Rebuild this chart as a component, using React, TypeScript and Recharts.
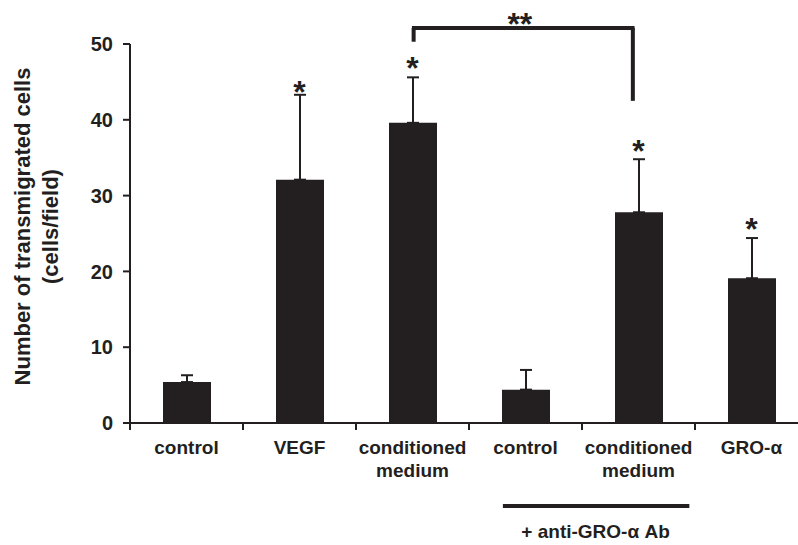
import {
  BarChart,
  Bar,
  XAxis,
  YAxis,
  ErrorBar,
  ReferenceLine,
  ReferenceDot,
} from 'recharts';

const groups = ['control', 'VEGF', 'conditioned\nmedium', 'control', 'conditioned\nmedium', 'GRO-α'];
const means = [5.4, 32.1, 39.6, 4.4, 27.8, 19.1];
const sdUpper = [0.9, 11.2, 6.0, 2.6, 7.0, 5.3];
const starHeights = [null, 44.6, 47.8, null, 36.8, 26.5];
const yTicks = [0, 10, 20, 30, 40, 50];

// bracket between conditioned medium +/- antibody (x in group units, 0..6)
const bracketX = [2.51, 4.45];
const bracketTop = 52.1;
const bracketEnds = [50.3, 42.5];
const bracketStar = { x: 3.45, y: 53.6 };

// "+ anti-GRO-α Ab" underline below the axis
const abLineX = [3.3, 4.95];
const abLineY = -10.95;
const abLabel = { x: 4.12, y: -15.2, text: '+ anti-GRO-α Ab' };

const ink = '#231f20';
const font = '"Liberation Sans", Arial, sans-serif';

const data = groups.map((g, i) => ({
  key: 'g' + i,
  pos: i + 0.5,
  mean: means[i],
  err: [0, sdUpper[i]],
}));

function GroupTick(props: any) {
  const { x, y, payload, index } = props;
  const lines = groups[index].split('\n');
  const edge = x - (payload.offset ?? 0);
  return (
    <g>
      <line x1={edge} y1={y} x2={edge} y2={y + 7} stroke={ink} strokeWidth={2} />
      <text x={x} y={y + 31} textAnchor="middle" fontSize={19} fontWeight="bold" fill={ink} fontFamily={font}>
        {lines.map((l, i) => (
          <tspan key={i} x={x} dy={i === 0 ? 0 : 23}>
            {l}
          </tspan>
        ))}
      </text>
    </g>
  );
}

function YTitle(props: any) {
  const { viewBox } = props;
  const cy = viewBox.y + viewBox.height / 2 - 7;
  const x1 = viewBox.x + 30;
  const x2 = viewBox.x + 58;
  const style = { fontSize: 22, fontWeight: 'bold' as const, fill: ink, fontFamily: font };
  return (
    <g>
      <text x={x1} y={cy} transform={`rotate(-90 ${x1} ${cy})`} textAnchor="middle" {...style}>
        Number of transmigrated cells
      </text>
      <text x={x2} y={cy} transform={`rotate(-90 ${x2} ${cy})`} textAnchor="middle" {...style}>
        (cells/field)
      </text>
    </g>
  );
}

const Star = (text: string) => (p: any) => (
  <text x={p.cx} y={p.cy + 18} textAnchor="middle" fontSize={32} fontWeight="bold" fill={ink} fontFamily={font}>
    {text}
  </text>
);

const AbText = (p: any) => (
  <text x={p.cx} y={p.cy} textAnchor="middle" fontSize={19} fontWeight="bold" fill={ink} fontFamily={font}>
    {abLabel.text}
  </text>
);

export default function App() {
  return (
    <div style={{ position: 'absolute', left: 0, top: 0, width: 798, height: 545, overflow: 'hidden', background: '#fff' }}>
      <BarChart width={808} height={545} data={data} margin={{ top: 44, right: 0, bottom: 62, left: 0 }} barSize={48}>
        <XAxis
          dataKey="key"
          height={60}
          interval={0}
          tickLine={false}
          tickSize={0}
          tickMargin={0}
          axisLine={{ stroke: ink, strokeWidth: 2 }}
          tick={<GroupTick />}
        />
        <XAxis xAxisId="num" dataKey="pos" type="number" domain={[0, 6]} allowDataOverflow hide />
        <YAxis
          width={130}
          domain={[0, 50]}
          ticks={yTicks}
          interval={0}
          tickSize={7}
          tickMargin={10}
          axisLine={{ stroke: ink, strokeWidth: 2 }}
          tickLine={{ stroke: ink, strokeWidth: 2 }}
          tick={{ fill: ink, fontSize: 20, fontWeight: 'bold', fontFamily: font }}
          label={{ content: <YTitle /> }}
        />
        <Bar dataKey="mean" fill={ink} isAnimationActive={false}>
          <ErrorBar dataKey="err" direction="y" width={6} stroke={ink} strokeWidth={2} isAnimationActive={false} />
        </Bar>
        {starHeights.map((h, i) =>
          h == null ? null : (
            <ReferenceDot key={i} x={'g' + i} y={h} r={0} ifOverflow="visible" shape={Star('*')} />
          )
        )}
        <ReferenceLine
          xAxisId="num"
          ifOverflow="visible"
          segment={[{ x: bracketX[0], y: bracketEnds[0] }, { x: bracketX[0], y: bracketTop }]}
          stroke={ink}
          strokeWidth={4}
        />
        <ReferenceLine
          xAxisId="num"
          ifOverflow="visible"
          segment={[{ x: bracketX[0] - 0.015, y: bracketTop }, { x: bracketX[1] + 0.015, y: bracketTop }]}
          stroke={ink}
          strokeWidth={4}
        />
        <ReferenceLine
          xAxisId="num"
          ifOverflow="visible"
          segment={[{ x: bracketX[1], y: bracketTop }, { x: bracketX[1], y: bracketEnds[1] }]}
          stroke={ink}
          strokeWidth={4}
        />
        <ReferenceDot xAxisId="num" x={bracketStar.x} y={bracketStar.y} r={0} ifOverflow="visible" shape={Star('**')} />
        <ReferenceLine
          xAxisId="num"
          ifOverflow="visible"
          segment={[{ x: abLineX[0], y: abLineY }, { x: abLineX[1], y: abLineY }]}
          stroke={ink}
          strokeWidth={4}
        />
        <ReferenceDot xAxisId="num" x={abLabel.x} y={abLabel.y} r={0} ifOverflow="visible" shape={AbText} />
      </BarChart>
    </div>
  );
}
